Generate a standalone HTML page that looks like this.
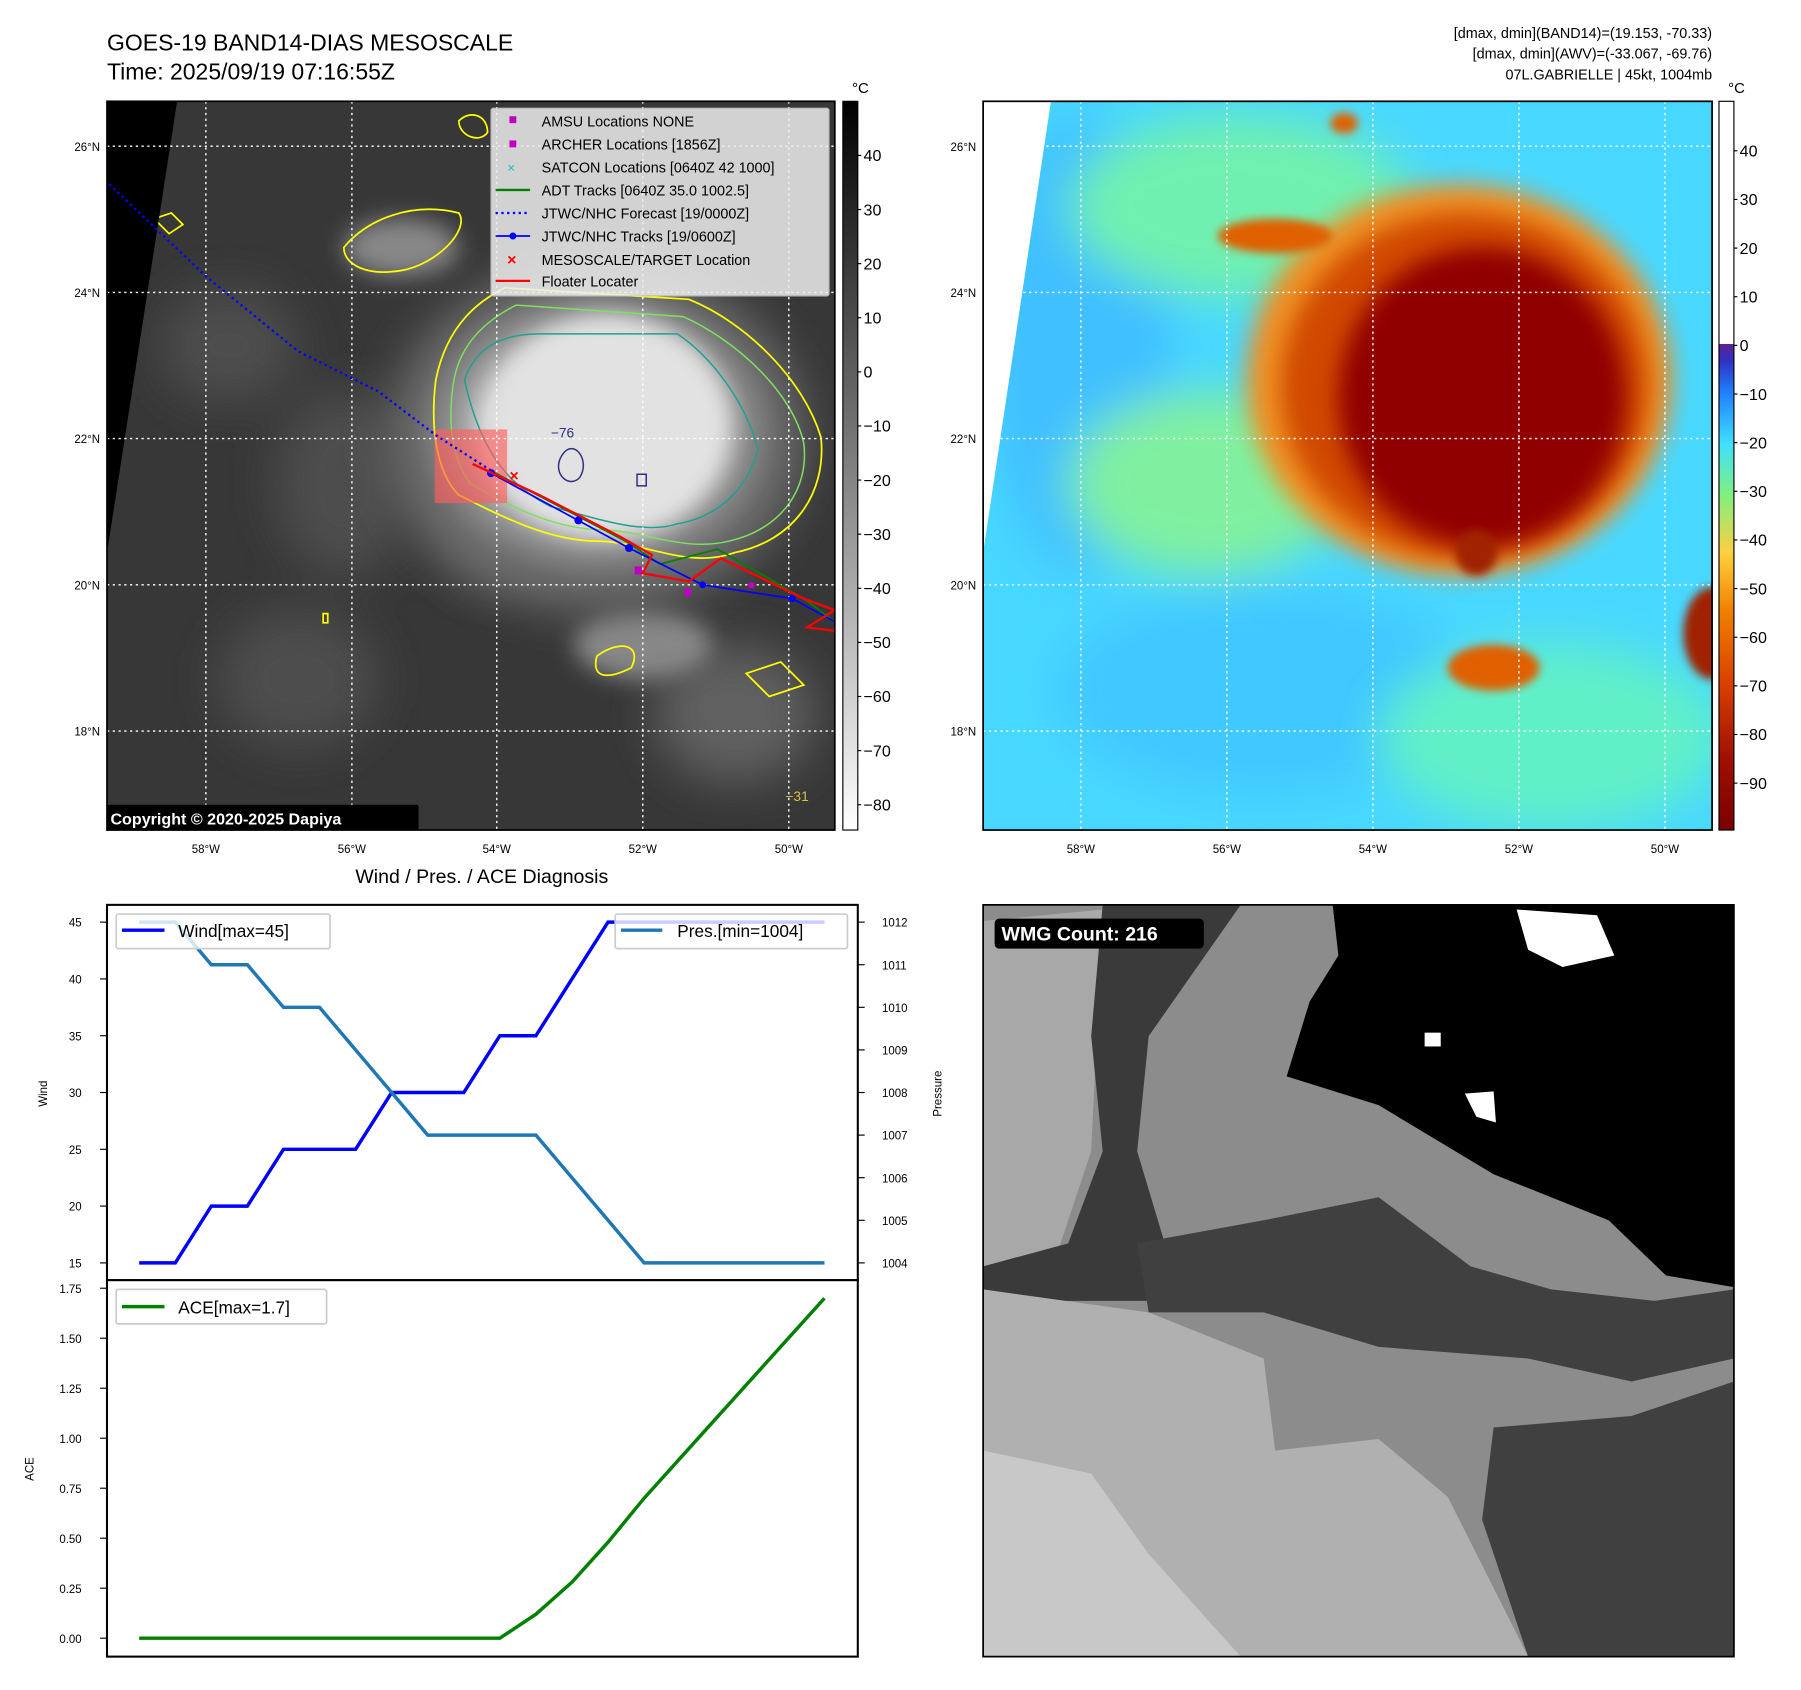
<!DOCTYPE html>
<html><head><meta charset="utf-8"><style>
html,body{margin:0;padding:0;background:#fff}
svg{display:block}
text{font-family:"Liberation Sans",sans-serif}
</style></head><body>
<svg id="fig" width="1801" height="1690" viewBox="0.94 0 1566.4 1468" preserveAspectRatio="none" xmlns="http://www.w3.org/2000/svg">
<defs>
<filter id="b4" x="-50%" y="-50%" width="200%" height="200%"><feGaussianBlur stdDeviation="4"/></filter>
<filter id="b10" x="-50%" y="-50%" width="200%" height="200%"><feGaussianBlur stdDeviation="10"/></filter>
<filter id="b20" x="-50%" y="-50%" width="200%" height="200%"><feGaussianBlur stdDeviation="20"/></filter>
<clipPath id="c1"><rect x="94" y="88" width="633" height="633"/></clipPath>
<clipPath id="c2"><rect x="856" y="88" width="634" height="633"/></clipPath>
<clipPath id="c3"><rect x="856" y="786" width="653" height="653"/></clipPath>
<linearGradient id="gray" x1="0" y1="1" x2="0" y2="0"><stop offset="0" stop-color="#fff"/><stop offset="1" stop-color="#000"/></linearGradient>
<linearGradient id="jet" x1="0" y1="1" x2="0" y2="0">
<stop offset="0" stop-color="#7a0000"/><stop offset="0.1" stop-color="#a01000"/><stop offset="0.2" stop-color="#d84000"/><stop offset="0.3" stop-color="#f08000"/><stop offset="0.38" stop-color="#ffd040"/><stop offset="0.46" stop-color="#80f080"/><stop offset="0.53" stop-color="#40e0ff"/><stop offset="0.6" stop-color="#2080ff"/><stop offset="0.645" stop-color="#3030c0"/><stop offset="0.667" stop-color="#602090"/><stop offset="0.667" stop-color="#ffffff"/><stop offset="1" stop-color="#ffffff"/></linearGradient>
<radialGradient id="cloud" cx="0.5" cy="0.5" r="0.5"><stop offset="0" stop-color="#e8e8e8"/><stop offset="0.6" stop-color="#d0d0d0"/><stop offset="1" stop-color="#909090" stop-opacity="0"/></radialGradient>
</defs>

<text x="94" y="44" font-size="20">GOES-19 BAND14-DIAS MESOSCALE</text>
<text x="94" y="69" font-size="20">Time: 2025/09/19 07:16:55Z</text>
<g font-size="12.5" text-anchor="end">
<text x="1490" y="33">[dmax, dmin](BAND14)=(19.153, -70.33)</text>
<text x="1490" y="51">[dmax, dmin](AWV)=(-33.067, -69.76)</text>
<text x="1490" y="69">07L.GABRIELLE | 45kt, 1004mb</text>
</g>

<g clip-path="url(#c1)">
<rect x="94" y="88" width="633" height="633" fill="#373737"/>
<g filter="url(#b20)" fill="#4e4e4e">
<ellipse cx="260" cy="590" rx="70" ry="60"/><ellipse cx="300" cy="420" rx="60" ry="80"/><ellipse cx="430" cy="450" rx="50" ry="60"/><ellipse cx="200" cy="300" rx="60" ry="50"/><ellipse cx="640" cy="620" rx="70" ry="60" fill="#606060"/>
</g>
<g filter="url(#b10)" fill="#888"><ellipse cx="350" cy="215" rx="50" ry="25"/><ellipse cx="560" cy="560" rx="60" ry="30"/></g>
<ellipse cx="520" cy="380" rx="180" ry="150" fill="#6e6e6e" filter="url(#b20)"/>
<ellipse cx="520" cy="375" rx="160" ry="130" fill="url(#cloud)"/>
<ellipse cx="530" cy="370" rx="105" ry="95" fill="#e2e2e2" filter="url(#b10)"/>
<path d="M380,330 C390,280 420,260 440,250 L600,260 C650,280 700,330 715,380 C720,430 690,470 640,480 C600,495 560,470 520,470 C480,470 440,450 400,430 C380,410 375,370 380,330Z" fill="none" stroke="#ffff00" stroke-width="1.5"/>
<path d="M395,335 C400,295 430,275 450,265 L595,275 C640,295 690,340 700,385 C705,425 680,460 635,470 C595,480 560,460 520,460 C480,458 445,440 410,420 C395,400 390,370 395,335Z" fill="none" stroke="#7fe060" stroke-width="1.3"/>
<path d="M405,330 C415,300 440,290 470,290 L590,290 C620,310 650,350 660,390 C650,430 620,450 590,455 C560,465 520,450 480,440 C450,425 420,400 405,330Z" fill="none" stroke="#20a090" stroke-width="1.3"/>
<path d="M490,395 C500,380 515,400 505,415 C495,425 480,410 490,395Z M555,412 l8,0 l0,10 l-8,0Z" fill="none" stroke="#303080" stroke-width="1.3"/>
<text x="480" y="380" font-size="12" fill="#303080">−76</text>
<g fill="none" stroke="#ffff00" stroke-width="1.5">
<path d="M300,215 C320,190 360,175 400,185 C410,200 380,230 350,235 C320,240 300,230 300,215Z"/>
<path d="M400,105 C410,95 425,100 425,115 C418,125 400,118 400,105Z"/>
<path d="M135,190 l15,-5 l10,10 l-12,8Z"/><path d="M520,570 C540,555 560,560 550,580 C530,590 515,590 520,570Z"/>
<path d="M650,585 l30,-10 l20,20 l-30,10Z"/><path d="M282,533 l4,0 l0,8 l-4,0Z"/>
</g>
<polygon points="94,88 155,88 94,480" fill="#000"/>
<rect x="379" y="373" width="63" height="64" fill="#ff6060" opacity="0.65"/>
<g stroke="#fff" stroke-width="1.2" stroke-dasharray="2,3" fill="none">
<line x1="180" y1="88" x2="180" y2="721"/><line x1="307" y1="88" x2="307" y2="721"/><line x1="433" y1="88" x2="433" y2="721"/><line x1="560" y1="88" x2="560" y2="721"/><line x1="687" y1="88" x2="687" y2="721"/>
<line x1="94" y1="127" x2="727" y2="127"/><line x1="94" y1="254" x2="727" y2="254"/><line x1="94" y1="381" x2="727" y2="381"/><line x1="94" y1="508" x2="727" y2="508"/><line x1="94" y1="635" x2="727" y2="635"/>
</g>
<polyline points="96,160 180,240 260,305 330,340 380,378 430,410" fill="none" stroke="#0000ff" stroke-width="2" stroke-dasharray="2,3"/>
<polyline points="430,410 545,470 575,490 625,477 700,520 727,540" fill="none" stroke="#008000" stroke-width="1.5"/>
<polyline points="428,411 500,450 548,476 612,508 690,520 727,540" fill="none" stroke="#0000ff" stroke-width="1.5"/>
<g fill="#0000ff"><circle cx="428" cy="411" r="3.5"/><circle cx="504" cy="452" r="3.5"/><circle cx="548" cy="476" r="3.5"/><circle cx="612" cy="508" r="3"/><circle cx="690" cy="520" r="3"/></g>
<polyline points="412,403 470,430 540,466 568,482 560,498 600,505 628,485 700,520 727,530 703,545 727,548" fill="none" stroke="#ff0000" stroke-width="2"/>
<g fill="#c000c0"><rect x="553" y="492" width="6" height="7"/><rect x="596" y="511" width="6" height="7"/><rect x="652" y="506" width="5" height="5"/></g>
<text x="444" y="418" font-size="14" fill="#f00" font-weight="bold">×</text>
<text x="684" y="696" font-size="12" fill="#d8c040">−31</text>
</g>
<rect x="94" y="88" width="633" height="633" fill="none" stroke="#000" stroke-width="1.5"/>
<g>
<rect x="428" y="94" width="294" height="163" fill="#eee" opacity="0.85" stroke="#ccc" rx="2"/>
<g font-size="12.5" fill="#000">
<rect x="444" y="101" width="6" height="6" fill="#c000c0"/><text x="472" y="110">AMSU Locations NONE</text>
<rect x="444" y="122" width="6" height="6" fill="#c000c0"/><text x="472" y="130">ARCHER Locations [1856Z]</text>
<text x="442" y="150" fill="#20c0c0" font-size="12">×</text><text x="472" y="150">SATCON Locations [0640Z 42 1000]</text>
<line x1="432" y1="165" x2="462" y2="165" stroke="#008000" stroke-width="2"/><text x="472" y="170">ADT Tracks [0640Z 35.0 1002.5]</text>
<line x1="432" y1="185" x2="462" y2="185" stroke="#0000ff" stroke-width="2" stroke-dasharray="2,3"/><text x="472" y="190">JTWC/NHC Forecast [19/0000Z]</text>
<line x1="432" y1="205" x2="462" y2="205" stroke="#0000ff" stroke-width="1.5"/><circle cx="447" cy="205" r="3" fill="#00f"/><text x="472" y="210">JTWC/NHC Tracks [19/0600Z]</text>
<text x="442" y="230" fill="#f00" font-size="14" font-weight="bold">×</text><text x="472" y="230">MESOSCALE/TARGET Location</text>
<line x1="432" y1="244" x2="462" y2="244" stroke="#f00" stroke-width="2"/><text x="472" y="249">Floater Locater</text>
</g></g>
<g><rect x="94" y="699" width="271" height="22" fill="#000" rx="2"/><text x="97" y="716" font-size="14" font-weight="bold" fill="#fff">Copyright © 2020-2025 Dapiya</text></g>
<g font-size="10" fill="#000">
<text x="88" y="131" text-anchor="end">26°N</text><text x="88" y="258" text-anchor="end">24°N</text><text x="88" y="385" text-anchor="end">22°N</text><text x="88" y="512" text-anchor="end">20°N</text><text x="88" y="639" text-anchor="end">18°N</text>
<text x="180" y="741" text-anchor="middle">58°W</text><text x="307" y="741" text-anchor="middle">56°W</text><text x="433" y="741" text-anchor="middle">54°W</text><text x="560" y="741" text-anchor="middle">52°W</text><text x="687" y="741" text-anchor="middle">50°W</text>
</g>
<g>
<rect x="734" y="88" width="13" height="633" fill="url(#gray)" stroke="#000" stroke-width="1"/>
<text x="742" y="81" font-size="13">°C</text>
<g font-size="14" fill="#000" id="cb1"></g>
</g>

<g clip-path="url(#c2)">
<rect x="856" y="88" width="634" height="633" fill="#48d8ff"/>
<g filter="url(#b20)">
<ellipse cx="940" cy="300" rx="80" ry="200" fill="#40c0ff"/><ellipse cx="1100" cy="600" rx="180" ry="90" fill="#40c8ff"/><ellipse cx="1350" cy="640" rx="150" ry="80" fill="#60f0c8"/><ellipse cx="1080" cy="180" rx="150" ry="80" fill="#70f0b0"/><ellipse cx="1050" cy="420" rx="120" ry="80" fill="#80f0a0"/>
</g>
<ellipse cx="1270" cy="330" rx="185" ry="170" fill="#f09020" filter="url(#b10)"/>
<ellipse cx="1275" cy="335" rx="160" ry="150" fill="#d04800" filter="url(#b10)"/>
<ellipse cx="1290" cy="345" rx="125" ry="130" fill="#900000" filter="url(#b10)"/>
<g fill="#e06000" filter="url(#b4)"><ellipse cx="1110" cy="205" rx="50" ry="15"/><ellipse cx="1300" cy="580" rx="40" ry="20"/><ellipse cx="1490" cy="550" rx="25" ry="40" fill="#a02000"/><ellipse cx="1170" cy="107" rx="12" ry="9"/><ellipse cx="1285" cy="480" rx="18" ry="20" fill="#a02000"/></g>
<polygon points="856,88 915,88 856,480" fill="#fff"/>
<g stroke="#fff" stroke-width="1.2" stroke-dasharray="2,3" fill="none">
<line x1="941" y1="88" x2="941" y2="721"/><line x1="1068" y1="88" x2="1068" y2="721"/><line x1="1195" y1="88" x2="1195" y2="721"/><line x1="1322" y1="88" x2="1322" y2="721"/><line x1="1449" y1="88" x2="1449" y2="721"/>
<line x1="856" y1="127" x2="1490" y2="127"/><line x1="856" y1="254" x2="1490" y2="254"/><line x1="856" y1="381" x2="1490" y2="381"/><line x1="856" y1="508" x2="1490" y2="508"/><line x1="856" y1="635" x2="1490" y2="635"/>
</g>
</g>
<rect x="856" y="88" width="634" height="633" fill="none" stroke="#000" stroke-width="1.5"/>
<g font-size="10" fill="#000">
<text x="850" y="131" text-anchor="end">26°N</text><text x="850" y="258" text-anchor="end">24°N</text><text x="850" y="385" text-anchor="end">22°N</text><text x="850" y="512" text-anchor="end">20°N</text><text x="850" y="639" text-anchor="end">18°N</text>
<text x="941" y="741" text-anchor="middle">58°W</text><text x="1068" y="741" text-anchor="middle">56°W</text><text x="1195" y="741" text-anchor="middle">54°W</text><text x="1322" y="741" text-anchor="middle">52°W</text><text x="1449" y="741" text-anchor="middle">50°W</text>
</g>
<g>
<rect x="1496" y="88" width="13" height="633" fill="url(#jet)" stroke="#000" stroke-width="1"/>
<text x="1504" y="81" font-size="13">°C</text>
<g font-size="14" fill="#000" id="cb2"></g>
</g>

<g clip-path="url(#c3)">
<rect x="856" y="786" width="653" height="653" fill="#8c8c8c"/>
<polygon points="856,800 960,790 950,1000 920,1090 856,1100" fill="#a8a8a8"/>
<polygon points="960,786 1080,786 1000,900 990,1000 1020,1100 1000,1130 900,1130 856,1120 856,1100 930,1080 960,1000 950,900" fill="#3a3a3a"/>
<polygon points="856,1120 1000,1140 1100,1180 1110,1260 1200,1250 1260,1300 1330,1439 856,1439" fill="#b0b0b0"/>
<polygon points="856,1260 950,1280 1000,1350 1080,1439 856,1439" fill="#c8c8c8"/>
<polygon points="990,1080 1100,1060 1200,1040 1280,1100 1350,1120 1440,1130 1509,1120 1509,1180 1420,1200 1330,1180 1200,1170 1100,1140 1000,1140" fill="#404040"/>
<polygon points="1300,1240 1420,1230 1509,1200 1509,1439 1330,1439 1290,1320" fill="#404040"/>
<polygon points="1160,786 1509,786 1509,1118 1450,1108 1400,1060 1300,1020 1200,960 1120,935 1140,870 1165,830" fill="#000"/>
<g fill="#fff"><polygon points="1320,790 1390,795 1405,830 1360,840 1330,825"/><rect x="1240" y="897" width="14" height="12"/><polygon points="1275,950 1300,948 1302,975 1285,970"/></g>
</g>
<rect x="856" y="786" width="653" height="653" fill="none" stroke="#000" stroke-width="1.5"/>
<g><rect x="866" y="798" width="182" height="26" rx="4" fill="#000"/><text x="872" y="817" font-size="17" font-weight="bold" fill="#fff">WMG Count: 216</text></g>

<text x="420" y="767" font-size="17" text-anchor="middle">Wind / Pres. / ACE Diagnosis</text>
<g id="chart"></g>
</svg>
<script>
const times = [0,1,2,3,4,5,6,7,8,9,10,11,12,13,14,15,16,17,18,19];
const windValues = [15,15,20,20,25,25,25,30,30,30,35,35,40,45,45,45,45,45,45,45];
const presValues = [1012,1012,1011,1011,1010,1010,1009,1008,1007,1007,1007,1007,1006,1005,1004,1004,1004,1004,1004,1004];
const aceValues = [0,0,0,0,0,0,0,0,0,0,0,0.12,0.28,0.48,0.70,0.90,1.10,1.30,1.50,1.70];
const windTicks = [15,20,25,30,35,40,45];
const presTicks = [1004,1005,1006,1007,1008,1009,1010,1011,1012];
const aceTicks = [0,0.25,0.5,0.75,1.0,1.25,1.5,1.75];
const cb1Ticks = [40,30,20,10,0,-10,-20,-30,-40,-50,-60,-70,-80];
const cb2Ticks = [40,30,20,10,0,-10,-20,-30,-40,-50,-60,-70,-80,-90];

const NS="http://www.w3.org/2000/svg";
function mk(tag, attrs, parent, txt){const e=document.createElementNS(NS,tag);for(const k in attrs)e.setAttribute(k,attrs[k]);if(txt!==undefined)e.textContent=txt;parent.appendChild(e);return e;}
const xS = i => 122 + (718-122)*i/19;
const yW = v => 1097 + (801-1097)*(v-15)/30;
const yP = v => 1097 + (801-1097)*(v-1004)/8;
const yA = v => 1423 + (1119-1423)*v/1.75;
const yC1 = v => 135 + (40-v)*4.7;
const yC2 = v => 131 + (40-v)*4.225;

const cb1=document.getElementById('cb1');
cb1Ticks.forEach(t=>{const y=yC1(t);
 mk('line',{x1:747,y1:y,x2:750,y2:y,stroke:'#000'},cb1);
 const e=mk('text',{x:752,y:y+5},cb1,t<0?'−'+(-t):String(t));
 
 });
const cb2=document.getElementById('cb2');
cb2Ticks.forEach(t=>{const y=yC2(t);
 mk('line',{x1:1509,y1:y,x2:1512,y2:y,stroke:'#000'},cb2);
 const e=mk('text',{x:1514,y:y+5},cb2,t<0?'−'+(-t):String(t));
 
 });

const g=document.getElementById('chart');
const f1=mk('rect',{x:94,y:786,width:653,height:326,fill:'#fff',stroke:'#000','stroke-width':1.8},g);


const f2=mk('rect',{x:94,y:1112,width:653,height:327,fill:'#fff',stroke:'#000','stroke-width':1.8},g);


windTicks.forEach(t=>{const y=yW(t);mk('line',{x1:88,y1:y,x2:94,y2:y,stroke:'#000'},g);
 const e=mk('text',{x:72,y:y+4,'font-size':10,'text-anchor':'end'},g,String(t));
 
 });
presTicks.forEach(t=>{const y=yP(t);mk('line',{x1:747,y1:y,x2:753,y2:y,stroke:'#000'},g);
 const e=mk('text',{x:768,y:y+4,'font-size':10},g,String(t));
 
 });
aceTicks.forEach(t=>{const y=yA(t);mk('line',{x1:88,y1:y,x2:94,y2:y,stroke:'#000'},g);
 const e=mk('text',{x:72,y:y+4,'font-size':10,'text-anchor':'end'},g,t.toFixed(2));
 
 });
let e;
e=mk('text',{x:42,y:950,'font-size':10,'text-anchor':'middle',transform:'rotate(-90 42 950)'},g,'Wind');


e=mk('text',{x:820,y:950,'font-size':10,'text-anchor':'middle',transform:'rotate(-90 820 950)'},g,'Pressure');


e=mk('text',{x:30,y:1276,'font-size':10,'text-anchor':'middle',transform:'rotate(-90 30 1276)'},g,'ACE');



e=mk('polyline',{points:times.map((t,i)=>xS(t)+','+yW(windValues[i])).join(' '),fill:'none',stroke:'#0000ff','stroke-width':3},g);


e=mk('polyline',{points:times.map((t,i)=>xS(t)+','+yP(presValues[i])).join(' '),fill:'none',stroke:'#1f77b4','stroke-width':3},g);


e=mk('polyline',{points:times.map((t,i)=>xS(t)+','+yA(aceValues[i])).join(' '),fill:'none',stroke:'#008000','stroke-width':3},g);



e=mk('g',{},g);


mk('rect',{x:102,y:794,width:186,height:30,fill:'#fff','fill-opacity':0.8,stroke:'#ccc','stroke-width':1.5,rx:2},e);
mk('line',{x1:107,y1:808,x2:144,y2:808,stroke:'#0000ff','stroke-width':3},e);
mk('text',{x:156,y:814,'font-size':15},e,'Wind[max=45]');
e=mk('g',{},g);


mk('rect',{x:536,y:794,width:202,height:30,fill:'#fff','fill-opacity':0.8,stroke:'#ccc','stroke-width':1.5,rx:2},e);
mk('line',{x1:541,y1:808,x2:577,y2:808,stroke:'#1f77b4','stroke-width':3},e);
mk('text',{x:590,y:814,'font-size':15},e,'Pres.[min=1004]');
e=mk('g',{},g);


mk('rect',{x:102,y:1120,width:183,height:30,fill:'#fff','fill-opacity':0.8,stroke:'#ccc','stroke-width':1.5,rx:2},e);
mk('line',{x1:107,y1:1135,x2:144,y2:1135,stroke:'#008000','stroke-width':3},e);
mk('text',{x:156,y:1141,'font-size':15},e,'ACE[max=1.7]');
</script>
</body></html>
